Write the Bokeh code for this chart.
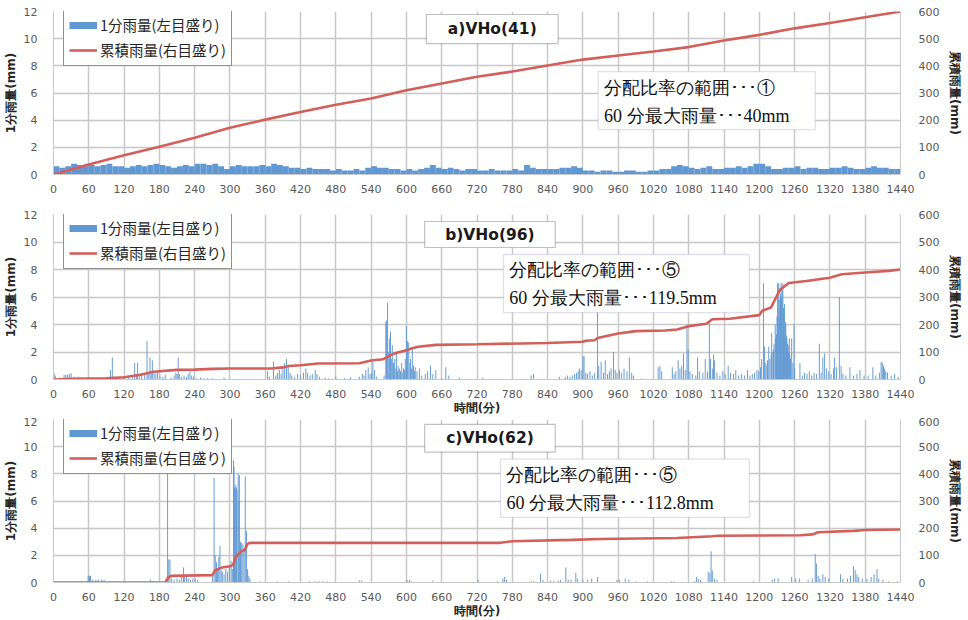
import numpy as np
from bokeh.plotting import figure
from bokeh.models import (Range1d, LinearAxis, FixedTicker, Legend, LegendItem,
                          Label, BoxAnnotation, ColumnDataSource)
from bokeh.layouts import column
from bokeh.embed import file_html
from bokeh.resources import INLINE

# ---------------- data ----------------
TIME_TICKS = list(range(0, 1441, 60))
LEFT_TICKS = [0, 2, 4, 6, 8, 10, 12]
RIGHT_TICKS = [0, 100, 200, 300, 400, 500, 600]

# a) VHo(41): 1-minute rainfall, read as 10-minute blocks (mm)
a_block_minutes = 10
a_rain = [
    0.6, 0.5, 0.6, 0.8, 0.7, 0.6,
    0.7, 0.6, 0.7, 0.8, 0.6, 0.6,
    0.5, 0.6, 0.7, 0.6, 0.7, 0.8,
    0.7, 0.6, 0.5, 0.6, 0.7, 0.6,
    0.8, 0.8, 0.7, 0.8, 0.6, 0.4,
    0.6, 0.7, 0.6, 0.6, 0.6, 0.7,
    0.6, 0.8, 0.7, 0.6, 0.5, 0.5,
    0.4, 0.5, 0.4, 0.4, 0.4, 0.3,
    0.4, 0.3, 0.3, 0.4, 0.3, 0.5,
    0.6, 0.5, 0.5, 0.4, 0.4, 0.3,
    0.4, 0.3, 0.4, 0.5, 0.7, 0.5,
    0.4, 0.5, 0.4, 0.3, 0.4, 0.4,
    0.3, 0.3, 0.4, 0.3, 0.3, 0.3,
    0.4, 0.3, 0.7, 0.5, 0.4, 0.4,
    0.4, 0.4, 0.5, 0.5, 0.6, 0.5,
    0.3, 0.3, 0.2, 0.3, 0.3, 0.2,
    0.2, 0.3, 0.3, 0.2, 0.2, 0.3,
    0.3, 0.4, 0.4, 0.6, 0.7, 0.6,
    0.5, 0.4, 0.5, 0.6, 0.4, 0.4,
    0.5, 0.5, 0.6, 0.5, 0.6, 0.8,
    0.8, 0.6, 0.4, 0.4, 0.5, 0.5,
    0.6, 0.4, 0.5, 0.5, 0.4, 0.4,
    0.5, 0.5, 0.6, 0.5, 0.4, 0.4,
    0.5, 0.6, 0.5, 0.5, 0.4, 0.4,
]
a_cum_minute = [0, 60, 120, 180, 240, 300, 360, 420, 480, 540, 600, 660, 720,
                780, 840, 900, 960, 1020, 1080, 1140, 1200, 1260, 1320, 1380, 1440]
a_cum_mm = [0, 37, 71, 102, 135, 172, 202, 230, 257, 280, 310, 335, 360,
            379, 401, 423, 438, 453, 469, 493, 514, 538, 558, 579, 600]

# b) VHo(96): 1-minute rainfall (minute, mm), non-zero minutes only
b_minute = [1, 3, 12, 18, 21, 24, 27, 30, 36, 42, 48,
            97, 100, 103, 112, 120, 128, 134, 138, 141, 143, 146, 150, 155, 159, 161, 164, 166, 168,
            171, 174, 177, 181, 186, 190, 200, 205, 208, 210, 212, 214, 218, 222, 226, 229, 232, 235,
            238, 243, 250, 256, 262, 270, 290,
            364, 367, 374, 378, 381, 384, 387, 390, 393, 396, 399, 402, 405, 410, 415, 420, 425, 429,
            432, 436, 440, 445, 448, 452, 462, 468, 480, 495, 505,
            520, 525, 528, 531, 535, 538, 541, 543, 546, 549,
            562, 565, 566, 568, 570, 571, 573, 575, 576, 578, 580, 582, 583, 585, 586, 588, 590, 592,
            594, 595, 597, 598, 600, 602, 604, 606, 607, 609, 610, 612, 614, 615, 618, 622, 626, 632,
            636, 641, 645, 650, 660, 667, 672, 690,
            730, 812, 816, 860, 870, 874, 878, 882, 886, 889, 892, 894, 897, 900, 902, 905, 908, 912,
            916, 920, 925, 927, 931, 935, 938, 942, 945, 948, 952, 955, 958, 962, 966, 970, 975, 979,
            983, 986, 1000, 1028, 1031, 1034, 1052, 1055, 1058, 1062, 1065, 1068, 1071, 1074, 1077,
            1079, 1082, 1086, 1092, 1095, 1098, 1104, 1108, 1112, 1115, 1117, 1120, 1122, 1124, 1128,
            1133, 1138, 1142, 1147, 1151, 1156, 1160, 1165, 1170, 1175, 1180, 1184, 1188, 1192, 1196,
            1199, 1202, 1204, 1207, 1209, 1211, 1213, 1214, 1216, 1218, 1220, 1221, 1223, 1224, 1225,
            1227, 1228, 1229, 1230, 1231, 1232, 1233, 1234, 1235, 1236, 1237, 1238, 1239, 1240, 1241,
            1242, 1243, 1244, 1245, 1246, 1247, 1248, 1249, 1250, 1251, 1252, 1253, 1255, 1257, 1259,
            1260, 1269, 1273, 1277, 1281, 1285, 1289, 1293, 1297, 1302, 1305, 1308, 1311, 1314, 1318,
            1322, 1326, 1328, 1331, 1336, 1339, 1342, 1347, 1354, 1360, 1366, 1371, 1378, 1385, 1393,
            1398, 1404, 1407, 1409, 1411, 1413, 1415, 1418, 1424, 1430, 1436]
b_mm = [0.45, 0.3, 0.15, 0.35, 0.35, 0.35, 0.4, 0.45, 0.2, 0.2, 0.15,
        0.7, 1.6, 0.2, 0.2, 0.15, 0.2, 0.3, 1.2, 0.3, 1.2, 0.3, 0.5, 0.4, 2.8, 0.5, 1.6, 0.6, 1.4,
        0.5, 0.4, 0.6, 0.3, 0.2, 0.35, 0.15, 0.3, 0.5, 0.4, 1.6, 0.4, 0.2, 0.3, 0.2, 0.4, 0.6, 0.3,
        0.2, 0.1, 0.15, 0.1, 0.1, 0.1, 0.15,
        0.6, 0.2, 1.3, 0.3, 0.5, 0.7, 0.4, 0.9, 1.2, 1.5, 0.9, 0.5, 0.3, 0.2, 0.4, 0.3, 0.5, 0.8,
        0.5, 0.3, 0.4, 0.7, 0.4, 0.2, 0.15, 0.1, 0.2, 0.1, 0.15,
        0.2, 0.4, 0.3, 0.7, 0.9, 0.4, 0.5, 1.3, 0.7, 0.2,
        0.3, 4.2, 4.3, 5.6, 2.0, 3.0, 3.5, 1.5, 2.5, 1.2, 1.5, 0.8, 1.9, 0.6, 1.0, 0.8, 0.6, 1.2,
        0.5, 0.8, 0.7, 1.5, 3.9, 2.8, 2.7, 1.2, 1.5, 0.8, 2.2, 1.0, 0.6, 0.9, 0.6, 0.8, 0.3, 0.4,
        0.6, 1.0, 0.4, 0.7, 0.1, 0.9, 0.3, 0.15,
        0.15, 0.3, 0.4, 0.2, 0.2, 0.3, 0.2, 0.3, 0.4, 0.5, 0.6, 0.8, 0.7, 1.7, 1.7, 0.5, 0.4, 0.6,
        0.3, 0.5, 5.2, 1.0, 1.3, 0.5, 1.4, 0.4, 0.6, 0.8, 2.0, 0.7, 0.5, 0.7, 0.5, 0.8, 0.6, 1.6,
        0.5, 0.3, 0.1, 0.9, 1.0, 0.6, 0.9, 0.4, 0.6, 1.4, 0.8, 1.0, 1.9, 0.7, 4.0,
        2.2, 0.6, 0.4, 0.3, 1.6, 0.6, 0.5, 1.5, 0.6, 4.2, 1.5, 0.8, 1.8, 1.4, 0.5,
        0.3, 0.6, 0.4, 1.0, 0.5, 0.4, 0.7, 0.3, 0.4, 0.3, 0.7, 0.3, 0.4, 0.5, 0.7,
        0.6, 0.9, 1.5, 7.0, 2.4, 1.2, 1.0, 1.4, 2.4, 1.5, 1.8, 3.4, 2.0, 2.2, 2.6,
        4.0, 3.0, 3.3, 4.6, 7.0, 4.5, 7.0, 5.8, 5.0, 6.2, 7.0, 6.0, 6.5, 7.0, 5.2,
        4.8, 5.5, 4.2, 4.0, 3.2, 3.0, 2.6, 2.5, 2.0, 3.0, 1.8, 1.5, 3.0, 1.2, 4.0,
        0.8, 1.2, 0.3, 0.5, 0.4, 0.6, 0.3, 0.5, 0.4, 2.6, 0.5, 1.6, 1.9, 0.8, 0.6,
        0.4, 0.8, 1.6, 0.9, 6.0, 1.0, 0.4, 0.3, 0.9, 0.3, 0.4, 0.7, 0.3, 0.3, 0.9,
        0.3, 0.5, 1.3, 1.2, 1.0, 0.8, 0.6, 0.5, 0.3, 0.4, 0.2]
b_cum_minute = [0, 30, 90, 120, 150, 170, 180, 210, 240, 270, 300, 370, 390, 400, 420, 450,
                520, 540, 560, 570, 580, 600, 610, 620, 650, 720, 840, 900, 905, 920, 925, 960,
                990, 1040, 1060, 1080, 1110, 1120, 1150, 1200, 1205, 1220, 1235, 1250, 1280,
                1320, 1340, 1380, 1420, 1440]
b_cum_mm = [0, 3, 4, 8, 18, 28, 30, 35, 36, 38.5, 40, 40, 44, 49, 52, 58,
            59, 69, 73.5, 85, 95, 106, 114, 119, 126, 128, 133, 137, 141, 143, 151, 167,
            176, 178, 182, 194, 203, 219, 221, 234, 250, 262, 326, 351, 358,
            370, 383, 389, 395, 400]

# c) VHo(62): 1-minute rainfall (minute, mm), non-zero minutes only
c_minute = [59, 61, 63, 66, 72, 76, 82, 86, 165, 168,
            194, 196, 198, 201, 205, 210, 214, 218, 221, 223, 226, 229, 233, 237, 241, 245,
            270, 273, 275, 277, 279, 281, 283, 285, 287, 290, 293, 296, 299, 302, 304, 306, 307,
            308, 309, 310, 311, 312, 314, 315, 316, 318, 320, 322, 324, 326, 328, 330, 332, 334,
            352, 380, 400, 435, 445, 452, 458, 465, 520, 524, 601, 605, 608, 645, 722, 755, 764,
            767, 770, 812, 816, 828, 832, 845, 850, 858, 862, 871, 875, 880, 888, 891, 900, 908,
            915, 925, 958, 962, 972, 978, 990, 1010, 1050, 1055, 1090, 1093, 1096, 1100, 1113,
            1116, 1118, 1120, 1124, 1128, 1190, 1222, 1226, 1232, 1255, 1262, 1268, 1283, 1290,
            1295, 1297, 1300, 1303, 1308, 1312, 1318, 1338, 1342, 1350, 1355, 1360, 1363, 1366,
            1369, 1375, 1383, 1390, 1395, 1400, 1403, 1410, 1420, 1435]
c_mm = [0.5, 0.5, 0.5, 0.2, 0.2, 0.2, 0.2, 0.2, 0.2, 0.1,
        9.0, 1.7, 1.7, 0.3, 0.2, 0.3, 0.2, 0.4, 1.1, 0.6, 0.5, 0.3, 0.2, 0.3, 0.3, 0.2,
        0.7, 7.7, 2.0, 1.5, 1.0, 1.9, 2.7, 0.9, 0.8, 0.6, 1.0, 0.8, 1.2, 1.6, 1.0, 9.0, 8.5,
        7.0, 7.0, 7.2, 7.0, 6.8, 8.0, 6.0, 7.9, 3.0, 2.9, 2.8, 2.5, 7.8, 3.8, 1.0, 0.5, 0.3,
        0.1, 0.1, 0.1, 0.1, 0.1, 0.1, 0.1, 0.1, 0.15, 0.15, 0.2, 0.2, 0.1, 0.15, 0.2, 0.1, 0.3,
        0.4, 0.2, 0.1, 0.1, 0.65, 0.2, 0.15, 0.1, 0.15, 0.2, 1.1, 0.2, 0.2, 0.7, 0.3, 0.2, 0.2,
        0.3, 0.4, 0.2, 0.2, 0.3, 0.2, 0.1, 0.1, 0.1, 0.1, 0.1, 0.4, 0.3, 0.2, 0.8,
        0.7, 2.3, 0.9, 0.3, 0.2, 0.1, 0.2, 0.3, 0.3, 0.4, 0.3, 0.3, 0.2, 0.3,
        2.1, 1.4, 0.5, 0.3, 0.6, 0.4, 0.3, 0.6, 0.3, 0.3, 0.5, 1.2, 0.9, 0.6,
        0.4, 0.3, 0.3, 0.4, 0.6, 1.0, 0.3, 0.2, 0.1, 0.1]
c_cum_minute = [0, 190, 195, 200, 270, 275, 285, 300, 305, 310, 320, 325, 330, 335, 760,
                780, 880, 930, 1060, 1120, 1130, 1270, 1290, 1300, 1360, 1380, 1440]
c_cum_mm = [0, 0, 18, 24.5, 27, 45, 54, 60, 64, 94, 116, 119, 143, 146, 146,
            152, 157, 160, 164, 170, 172, 174, 177, 185, 190, 193, 195]

TITLES = ["a)VHo(41)", "b)VHo(96)", "c)VHo(62)"]
NOTE1 = ["分配比率の範囲･･･①", "分配比率の範囲･･･⑤", "分配比率の範囲･･･⑤"]
NOTE2 = ["60 分最大雨量･･･40mm", "60 分最大雨量･･･119.5mm", "60 分最大雨量･･･112.8mm"]
BAR_LABEL = "1分雨量(左目盛り)"
LINE_LABEL = "累積雨量(右目盛り)"
X_TITLE = "時間(分)"

# ---------------- styling ----------------
BLUE = "#5f98d2"
RED = "#d45f5a"
GRID = "#c8c8c8"
TICK_COLOR = "#595959"
SANS = "DejaVu Sans"
CJK = "Noto Sans CJK JP"
SERIF = "Liberation Serif"


def make_panel(bar_x, bar_h, bar_w, cum_x, cum_y, idx, top, fh, bottom, xlabel,
               title_box, note_box, note_pos):
    p = figure(frame_width=847, frame_height=fh,
               min_border_left=51, min_border_right=68,
               min_border_top=top, min_border_bottom=bottom,
               x_range=Range1d(0, 1440), y_range=Range1d(0, 12),
               output_backend="svg", toolbar_location=None)
    p.extra_y_ranges = {"cum": Range1d(0, 600)}
    p.outline_line_color = None
    p.background_fill_color = "white"
    p.border_fill_color = "white"

    src = ColumnDataSource(dict(x=bar_x, h=bar_h))
    p.vbar(x="x", top="h", width=bar_w, source=src,
           fill_color=BLUE, line_color=None)
    line = p.line(cum_x, cum_y, y_range_name="cum", line_color=RED, line_width=2.6)
    # legend swatch for the bars: a thick horizontal stroke, as in the original key
    # (one point with no height value, so nothing is drawn in the plot itself)
    key_src = ColumnDataSource(dict(x=[bar_x[0]], y=[float("nan")]))
    bar_key = p.line(x="x", y="y", source=key_src, line_color=BLUE, line_width=7)

    right = LinearAxis(y_range_name="cum")
    p.add_layout(right, "right")

    for ax in [p.xaxis[0], p.yaxis[0], right]:
        ax.major_tick_line_color = None
        ax.minor_tick_line_color = None
        ax.axis_line_color = GRID
        ax.major_label_text_font = SANS
        ax.major_label_text_font_size = "11px"
        ax.major_label_text_color = TICK_COLOR
        ax.axis_label_text_font = SANS
        ax.axis_label_text_font_style = "bold"
        ax.axis_label_text_font_size = "12px"
        ax.axis_label_text_color = "#262626"
    p.xaxis.ticker = FixedTicker(ticks=TIME_TICKS)
    p.yaxis[0].ticker = FixedTicker(ticks=LEFT_TICKS)
    right.ticker = FixedTicker(ticks=RIGHT_TICKS)
    p.xaxis.major_label_standoff = 4
    p.yaxis[0].major_label_standoff = 10
    right.major_label_standoff = 12
    p.yaxis[0].axis_label = "1分雨量(mm)"
    p.yaxis[0].axis_label_standoff = 3
    right.axis_label = "累積雨量(mm)"
    right.axis_label_standoff = 6
    if xlabel:
        p.xaxis.axis_label = X_TITLE
        p.xaxis.axis_label_standoff = 0
        p.xaxis.axis_label_text_font_size = "11.5px"

    p.xgrid.ticker = FixedTicker(ticks=TIME_TICKS)
    p.ygrid.ticker = FixedTicker(ticks=LEFT_TICKS)
    p.xgrid.grid_line_color = GRID
    p.ygrid.grid_line_color = GRID
    p.xgrid.grid_line_width = 1.5
    p.ygrid.grid_line_width = 1.5

    leg_h = 52
    legend = Legend(items=[LegendItem(label=BAR_LABEL, renderers=[bar_key]),
                           LegendItem(label=LINE_LABEL, renderers=[line])],
                    location=(10, fh - 3 - leg_h))
    legend.border_line_color = "#222222"
    legend.border_line_width = 1
    legend.background_fill_alpha = 1
    legend.label_text_font = CJK
    legend.label_text_font_size = "14.5px"
    legend.label_text_color = "#262626"
    legend.glyph_width = 28
    legend.glyph_height = 20
    legend.label_height = 20
    legend.spacing = 4
    legend.padding = 5
    legend.margin = 0
    legend.label_standoff = 3
    p.add_layout(legend)

    # title box
    tl, tr, tb, tt = title_box
    p.add_layout(BoxAnnotation(left=tl, right=tr, bottom=tb, top=tt,
                               fill_color="white", fill_alpha=1,
                               line_color="#333333", line_width=1.2))
    p.add_layout(Label(x=(tl + tr) / 2, y=(tb + tt) / 2, text=TITLES[idx],
                       text_align="center", text_baseline="middle",
                       text_font=SANS, text_font_style="bold",
                       text_font_size="15.5px", text_color="#1a1a1a"))
    # note box
    nl, nr, nb, nt = note_box
    p.add_layout(BoxAnnotation(left=nl, right=nr, bottom=nb, top=nt,
                               fill_color="white", fill_alpha=1,
                               line_color="#a391c4", line_width=1.3))
    tx, y1, y2 = note_pos
    for txt, yy in [(NOTE1[idx], y1), (NOTE2[idx], y2)]:
        p.add_layout(Label(x=tx, y=yy, text=txt, text_align="left",
                           text_baseline="middle", text_font=SERIF,
                           text_font_size="18px", text_color="#111111"))
    return p


a_x = (np.arange(len(a_rain)) * a_block_minutes + a_block_minutes / 2).tolist()

pa = make_panel(a_x, a_rain, a_block_minutes, a_cum_minute, a_cum_mm, 0,
                top=11, fh=163, bottom=28, xlabel=False,
                title_box=(634, 858, 9.64, 11.78),
                note_box=(926, 1295, 3.31, 7.58),
                note_pos=(936, 6.40, 4.34))
pb = make_panel(b_minute, b_mm, 1.6, b_cum_minute, b_cum_mm, 1,
                top=12, fh=165, bottom=30, xlabel=True,
                title_box=(631, 853, 9.6, 11.49),
                note_box=(765, 1183, 4.87, 9.09),
                note_pos=(775, 8.0, 5.96))
pc = make_panel(c_minute, c_mm, 1.6, c_cum_minute, c_cum_mm, 2,
                top=2, fh=163, bottom=30, xlabel=True,
                title_box=(631, 853, 9.6, 11.64),
                note_box=(760, 1183, 4.8, 9.09),
                note_pos=(770, 7.93, 5.82))

layout = column(pa, pb, pc, spacing=0)
open("out.html", "w").write(file_html(layout, INLINE))
